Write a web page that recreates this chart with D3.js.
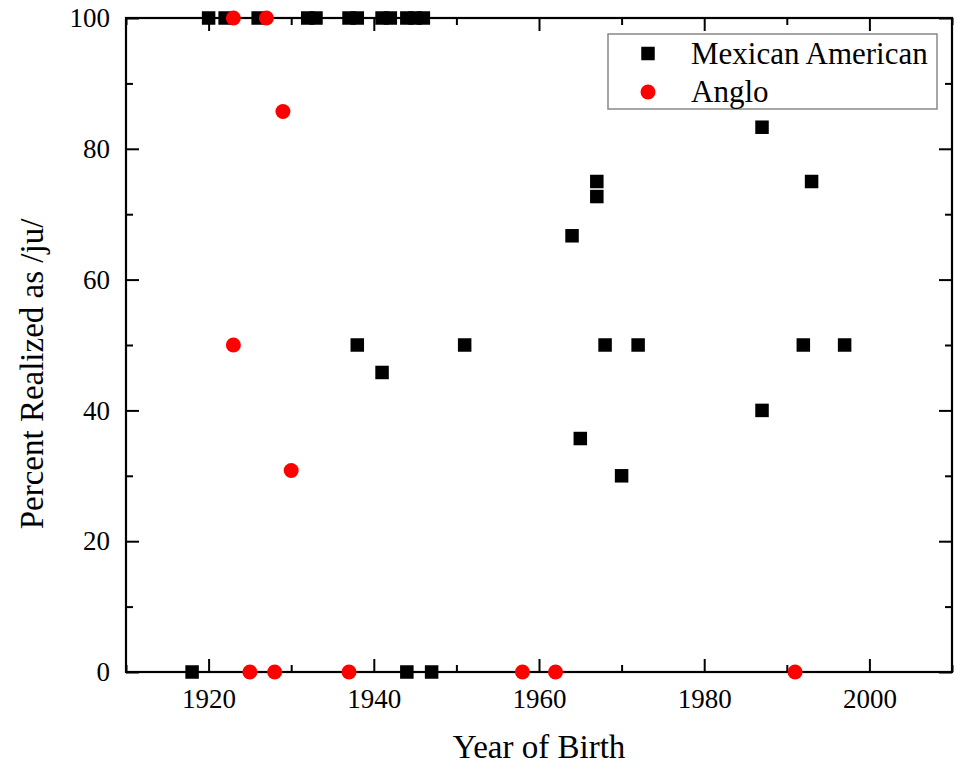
<!DOCTYPE html>
<html><head><meta charset="utf-8">
<script src="https://cdn.jsdelivr.net/npm/d3@7"></script>
<style>body{margin:0;background:#fff}svg{display:block}</style>
</head><body>
<script>
// Mexican American (squares)
const maYears  = [1918,1920,1922,1926,1932,1933,1937,1938,1938,1941,1942,1941,1944,1945,1946,1944,1947,1951,1964,1965,1967,1967,1968,1970,1972,1987,1987,1992,1993,1997];
const maValues = [0,100,100,100,100,100,100,100,50,100,100,45.8,100,100,100,0,0,50,66.7,35.7,75,72.7,50,30,50,83.3,40,50,75,50];
// Anglo (circles)
const anYears  = [1923,1927,1929,1923,1930,1925,1928,1937,1958,1962,1991];
const anValues = [100,100,85.7,50,30.8,0,0,0,0,0,0];
const xTicks = [1920,1940,1960,1980,2000];
const xMinor = [1910,1930,1950,1970,1990,2010];
const yTicks = [0,20,40,60,80,100];
const yMinor = [10,30,50,70,90];
const seriesNames = ["Mexican American","Anglo"];

const W=955,H=766;
const m={l:126,r:955-952,t:18,b:766-672};
const svg=d3.select("body").append("svg").attr("width",W).attr("height",H);
const font="'Liberation Serif','Times New Roman',serif";
const x=d3.scaleLinear().domain([1910,2010]).range([m.l,W-m.r]);
const y=d3.scaleLinear().domain([0,100]).range([H-m.b,m.t]);

function styleAxis(g){
  g.attr("font-family",font).attr("font-size",27);
  g.select(".domain").remove();
  g.selectAll(".tick line").attr("stroke","#000").attr("stroke-width",2);
  g.selectAll("text").attr("font-family",font).attr("font-size",27).attr("fill","#000");
}
// bottom
svg.append("g").attr("transform",`translate(0,${y(0)})`)
  .call(d3.axisBottom(x).tickValues(xTicks).tickFormat(d3.format("d")).tickSizeInner(-13).tickSizeOuter(0).tickPadding(17)).call(styleAxis);
svg.append("g").attr("transform",`translate(0,${y(0)})`)
  .call(d3.axisBottom(x).tickValues(xMinor).tickFormat("").tickSizeInner(-7).tickSizeOuter(0)).call(styleAxis);
// top
svg.append("g").attr("transform",`translate(0,${y(100)})`)
  .call(d3.axisTop(x).tickValues(xTicks).tickFormat("").tickSizeInner(-13).tickSizeOuter(0)).call(styleAxis);
svg.append("g").attr("transform",`translate(0,${y(100)})`)
  .call(d3.axisTop(x).tickValues(xMinor).tickFormat("").tickSizeInner(-7).tickSizeOuter(0)).call(styleAxis);
// left
svg.append("g").attr("transform",`translate(${x(1910)},0)`)
  .call(d3.axisLeft(y).tickValues(yTicks).tickFormat(d3.format("d")).tickSizeInner(-13).tickSizeOuter(0).tickPadding(16)).call(styleAxis);
svg.append("g").attr("transform",`translate(${x(1910)},0)`)
  .call(d3.axisLeft(y).tickValues(yMinor).tickFormat("").tickSizeInner(-7).tickSizeOuter(0)).call(styleAxis);
// right
svg.append("g").attr("transform",`translate(${x(2010)},0)`)
  .call(d3.axisRight(y).tickValues(yTicks).tickFormat("").tickSizeInner(-13).tickSizeOuter(0)).call(styleAxis);
svg.append("g").attr("transform",`translate(${x(2010)},0)`)
  .call(d3.axisRight(y).tickValues(yMinor).tickFormat("").tickSizeInner(-7).tickSizeOuter(0)).call(styleAxis);

// frame
svg.append("rect").attr("x",x(1910)).attr("y",y(100)).attr("width",x(2010)-x(1910)).attr("height",y(0)-y(100))
  .attr("fill","none").attr("stroke","#000").attr("stroke-width",2.2);

// data
const sq=13.5, r=7.5;
const ma=maYears.map((d,i)=>({x:d,y:maValues[i]}));
const an=anYears.map((d,i)=>({x:d,y:anValues[i]}));
svg.append("g").selectAll("rect").data(ma).join("rect")
  .attr("x",d=>x(d.x)-sq/2).attr("y",d=>y(d.y)-sq/2).attr("width",sq).attr("height",sq).attr("fill","#000");
svg.append("g").selectAll("circle").data(an).join("circle")
  .attr("cx",d=>x(d.x)).attr("cy",d=>y(d.y)).attr("r",r).attr("fill","#ff0000");

// legend
const lg=svg.append("g");
lg.append("rect").attr("x",608).attr("y",34).attr("width",329).attr("height",75)
  .attr("fill","#fff").attr("stroke","#888").attr("stroke-width",1.5);
lg.append("rect").attr("x",648-sq/2).attr("y",53.5-sq/2).attr("width",sq).attr("height",sq).attr("fill","#000");
lg.append("circle").attr("cx",648).attr("cy",92).attr("r",r).attr("fill","#ff0000");
lg.append("text").attr("x",691).attr("y",64).text(seriesNames[0])
  .attr("font-family",font).attr("font-size",31).attr("fill","#000");
lg.append("text").attr("x",691).attr("y",102).text(seriesNames[1])
  .attr("font-family",font).attr("font-size",31).attr("fill","#000");

// axis titles
svg.append("text").attr("x",(x(1910)+x(2010))/2).attr("y",758).attr("text-anchor","middle")
  .attr("font-family",font).attr("font-size",33).attr("fill","#000").text("Year of Birth");
svg.append("text").attr("transform",`translate(43,374) rotate(-90)`).attr("text-anchor","middle")
  .attr("font-family",font).attr("font-size",33).attr("fill","#000").text("Percent Realized as /ju/");
</script>
</body></html>
